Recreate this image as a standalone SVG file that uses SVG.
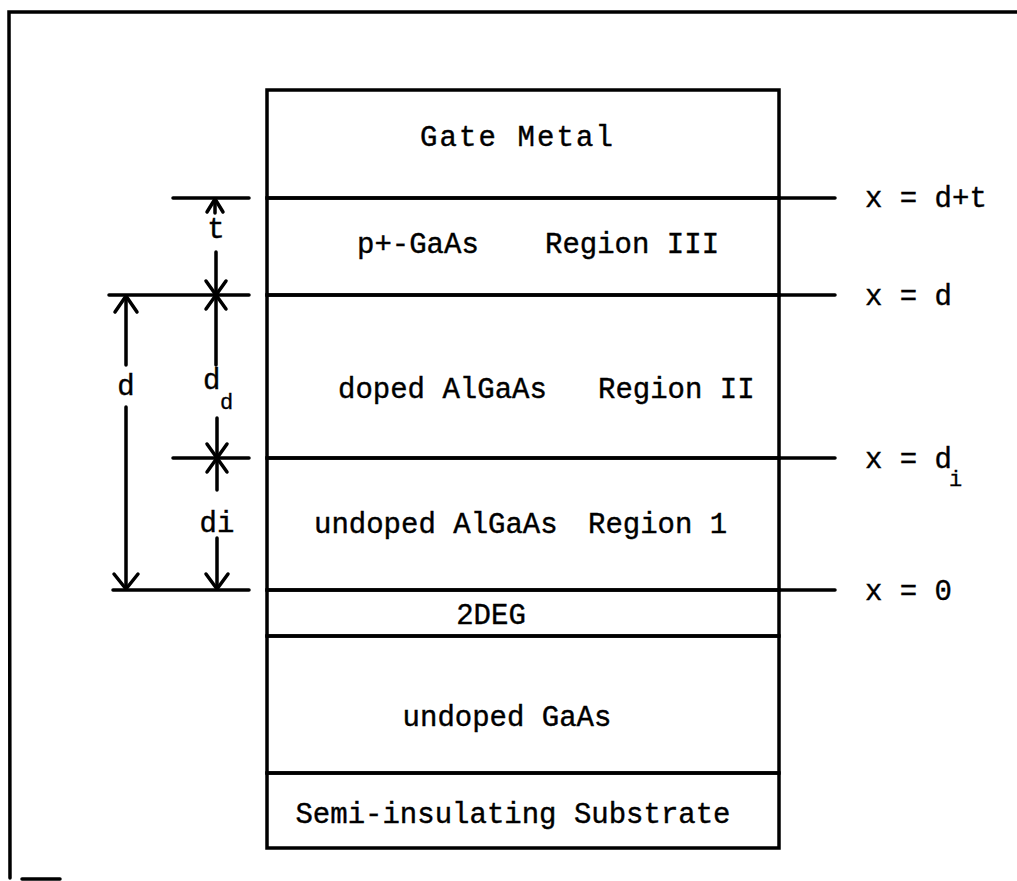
<svg xmlns="http://www.w3.org/2000/svg" width="1017" height="881" viewBox="0 0 1017 881">
<style>
.ln{stroke:#000;stroke-width:3.5;fill:none;stroke-linecap:round}
.ar{stroke:#000;stroke-width:3.5;fill:none;stroke-linecap:round;stroke-linejoin:round}
.t{font-family:"Liberation Mono","DejaVu Sans Mono",monospace;font-size:29px;fill:#000;stroke:#000;stroke-width:0.4}
.s{font-family:"Liberation Mono","DejaVu Sans Mono",monospace;font-size:22px;fill:#000;stroke:#000;stroke-width:0.3}
</style>
<rect width="1017" height="881" fill="#fff"/>
<g id="frame">
<path class="ln" d="M1017 12 L9 12 L10 878"/>
<path class="ln" d="M22 879 L60 879"/>
</g>
<g id="gate-metal">
<rect x="267" y="90" width="512" height="108" class="ln"/>
<text class="t" x="420" y="146" textLength="193">Gate Metal</text>
</g>
<g id="region-iii">
<rect x="267" y="198" width="512" height="97" class="ln"/>
<text class="t" x="357" y="253">p+-GaAs</text>
<text class="t" x="545" y="253">Region III</text>
</g>
<g id="region-ii">
<rect x="267" y="295" width="512" height="163" class="ln"/>
<text class="t" x="338" y="398">doped AlGaAs</text>
<text class="t" x="598" y="398">Region II</text>
</g>
<g id="region-i">
<rect x="267" y="458" width="512" height="132" class="ln"/>
<text class="t" x="314" y="533">undoped AlGaAs</text>
<text class="t" x="588" y="533">Region 1</text>
</g>
<g id="twodeg">
<rect x="267" y="590" width="512" height="46" class="ln"/>
<text class="t" x="491" y="624" text-anchor="middle">2DEG</text>
</g>
<g id="undoped-gaas">
<rect x="267" y="636" width="512" height="137" class="ln"/>
<text class="t" x="507" y="726" text-anchor="middle">undoped GaAs</text>
</g>
<g id="substrate">
<rect x="267" y="773" width="512" height="75" class="ln"/>
<text class="t" x="513" y="823" text-anchor="middle">Semi-insulating Substrate</text>
</g>
<g id="label-dt">
<text class="t" x="865" y="207">x = d+t</text>
</g>
<g id="label-d">
<text class="t" x="865" y="305">x = d</text>
</g>
<g id="label-di">
<text class="t" x="865" y="468">x = d</text>
<text class="s" x="949" y="486">i</text>
</g>
<g id="label-0">
<text class="t" x="865" y="600">x = 0</text>
</g>
<g id="dim-labels">
<text class="t" x="216" y="238" text-anchor="middle">t</text>
<text class="t" x="126" y="395" text-anchor="middle">d</text>
<text class="t" x="203" y="389">d</text>
<text class="s" x="220" y="409">d</text>
<text class="t" x="217" y="532" text-anchor="middle">di</text>
</g>
<g id="connectors">
<path class="ln" d="M779 198 L835 198 M779 295 L835 295 M779 458 L835 458 M779 590 L835 590"/>
<path class="ln" d="M173 198 L249 198 M109 295 L249 295 M173 458 L249 458 M113 590 L249 590"/>
<path class="ln" d="M215 199 L215 213 M216 252 L216 365 M217 418 L217 490 M217 538 L217 589"/>
<path class="ln" d="M126 296 L126 365 M126 407 L126 589"/>
<path class="ar" d="M207 212 L215 199 L223 212"/>
<path class="ar" d="M206 281 L216 295 L226 281 M206 309 L216 295 L226 309"/>
<path class="ar" d="M207 444 L217 458 L227 444 M207 472 L217 458 L227 472"/>
<path class="ar" d="M115 312 L126 296 L137 312"/>
<path class="ar" d="M114 574 L126 589 L138 574"/>
<path class="ar" d="M206 574 L217 589 L228 574"/>
</g>
</svg>
